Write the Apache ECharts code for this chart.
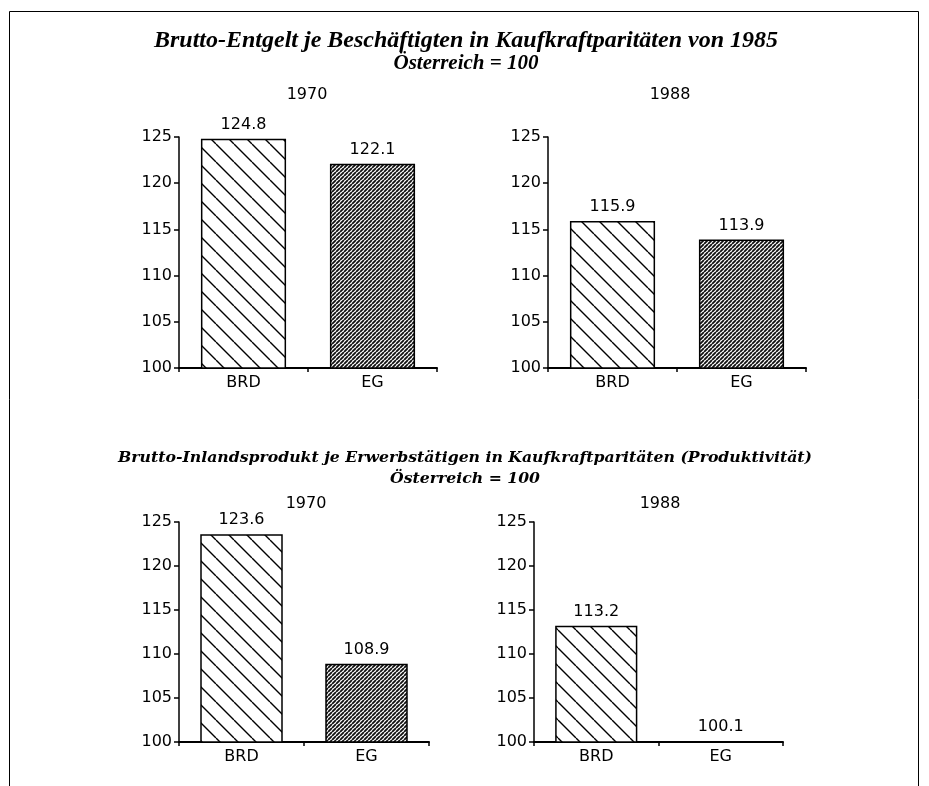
<!DOCTYPE html>
<html><head><meta charset="utf-8">
<script src="https://cdn.jsdelivr.net/npm/echarts@6/dist/echarts.min.js"></script>
<style>html,body{margin:0;padding:0;background:#fff}#c{width:929px;height:786px}</style>
</head><body><div id="c"></div>
<script>
// ---- data ----
const categories = ['BRD', 'EG'];
const yMin = 100, yMax = 125, yStep = 5;
const entgelt1970 = [124.8, 122.1];
const entgelt1988 = [115.9, 113.9];
const bip1970 = [123.6, 108.9];
const bip1988 = [113.2, 100.1];
const years = ['1970', '1988'];
const titleTop = 'Brutto-Entgelt je Beschäftigten in Kaufkraftparitäten von 1985';
const titleBottom = 'Brutto-Inlandsprodukt je Erwerbstätigen in Kaufkraftparitäten (Produktivität)';
const titleSub = 'Österreich = 100';

// ---- patterns ----
function hatch(size, lw, dir, bg, fg) {
  const c = document.createElement('canvas');
  c.width = size; c.height = size;
  const g = c.getContext('2d');
  g.fillStyle = bg; g.fillRect(0, 0, size, size);
  g.strokeStyle = fg; g.lineWidth = lw;
  g.beginPath();
  for (let k = -1; k <= 1; k++) {
    if (dir === 'back') { g.moveTo(k * size, 0); g.lineTo(k * size + size, size); }
    else { g.moveTo(k * size, size); g.lineTo(k * size + size, 0); }
  }
  g.stroke();
  return { image: c, repeat: 'repeat' };
}
const patBRD = hatch(18, 1.4, 'back', '#ffffff', '#000000');
const patEG = hatch(4, 1.8, 'fwd', '#ffffff', '#111111');

const sans = 'DejaVu Sans';
const lblStyle = { fontFamily: sans, fontSize: 16, color: '#000' };

const panels = [
  { data: entgelt1970, left: 179, top: 137, width: 258, height: 231 },
  { data: entgelt1988, left: 548, top: 137, width: 258, height: 231 },
  { data: bip1970, left: 179, top: 522, width: 250, height: 220 },
  { data: bip1988, left: 534, top: 522, width: 249, height: 220 }
];

const grid = [], xAxis = [], yAxis = [], series = [];
panels.forEach((p, i) => {
  grid.push({ left: p.left, top: p.top, width: p.width, height: p.height, containLabel: false });
  xAxis.push({
    type: 'category', gridIndex: i, data: categories, boundaryGap: true,
    axisLine: { onZero: false, lineStyle: { color: '#000', width: 2 } },
    axisTick: { show: true, length: 4, lineStyle: { color: '#000', width: 1.5 } },
    axisLabel: Object.assign({ margin: 7 }, lblStyle),
    splitLine: { show: false }
  });
  yAxis.push({
    type: 'value', gridIndex: i, min: yMin, max: yMax, interval: yStep,
    axisLine: { show: true, lineStyle: { color: '#000', width: 1.5 } },
    axisTick: { show: true, length: 5, lineStyle: { color: '#000', width: 1.5 } },
    axisLabel: Object.assign({ margin: 7 }, lblStyle),
    splitLine: { show: false }
  });
  series.push({
    type: 'bar', xAxisIndex: i, yAxisIndex: i, barWidth: '66%',
    data: p.data.map((v, j) => ({
      value: v,
      itemStyle: { color: j === 0 ? patBRD : patEG, borderColor: '#000', borderWidth: 1.5 }
    })),
    label: Object.assign({ show: true, position: 'top', distance: 6, formatter: (d) => d.value.toFixed(1) }, lblStyle),
    animation: false
  });
});

function txt(text, x, y, font) {
  return { type: 'text', x: x, y: y, silent: true,
    style: { text: text, font: font, fill: '#000', align: 'center', verticalAlign: 'middle' } };
}
const serifTop1 = 'italic bold 24px "Liberation Serif"';
const serifTop2 = 'italic bold 21px "Liberation Serif"';
const serifBot = 'italic bold 15.7px "DejaVu Serif"';
const graphic = [
  { type: 'rect', shape: { x: 9.5, y: 11.5, width: 909, height: 800 }, style: { fill: 'none', stroke: '#000', lineWidth: 1 }, silent: true },
  txt(titleTop, 466, 41, serifTop1),
  txt(titleSub, 466, 64, serifTop2),
  txt(years[0], 307, 95, '16px "DejaVu Sans"'),
  txt(years[1], 670, 95, '16px "DejaVu Sans"'),
  txt(titleBottom, 465, 458, serifBot),
  txt(titleSub, 465, 479, serifBot),
  txt(years[0], 306, 504, '16px "DejaVu Sans"'),
  txt(years[1], 660, 504, '16px "DejaVu Sans"')
];

const chart = echarts.init(document.getElementById('c'), null, { renderer: 'canvas' });
chart.setOption({ animation: false, backgroundColor: '#fff', grid, xAxis, yAxis, series, graphic });
</script></body></html>
